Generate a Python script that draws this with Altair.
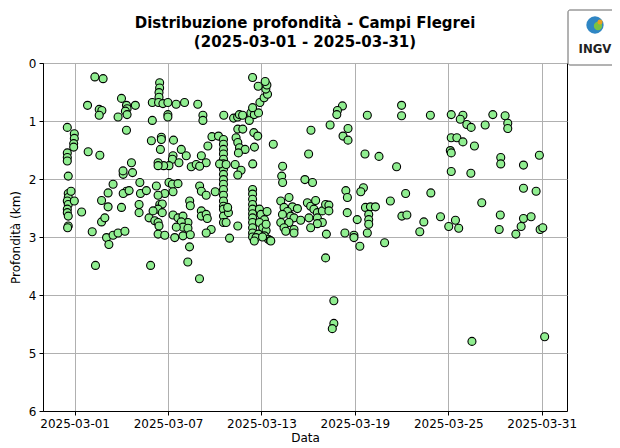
import altair as alt
import pandas as pd

# Days elapsed since 2025-03-01 00:00 (fractional) and depth in km
days = [
    # late Feb / early March
    1.30, 1.83, 0.83, 1.58, 1.75, 1.58, 3.01, 3.33, 3.37, 3.26, 3.37, 2.79, 3.90, 4.99, 4.99,
    -0.47, -0.02, -0.02, -0.06, -0.06, 3.33, -0.47, -0.47, -0.47, 0.87, 1.62, -0.41, 2.47,
    -0.41, -0.41, -0.47, -0.41, -0.47, -0.47, -0.41, -0.41, -0.45, -0.23, -0.02, 0.45,
    1.73, 2.15, 2.15, 1.73, 1.94, 1.13, 2.05, 2.47, 2.79, 2.20, 1.34, 4.88, 4.93,
    3.65, 3.72, 3.12, 3.11, 4.19, 3.33, 3.12, 3.50, 4.23, 4.61, 3.01, 4.14, 4.14, 4.78, 3.23,
    # 03-05 .. 03-08
    5.46, 5.46, 5.42, 5.42, 5.39, 5.67, 5.99, 6.52, 5.99, 5.99, 7.06, 7.91, 5.57, 5.57, 6.35,
    5.51, 6.85, 7.17, 6.32, 6.28, 6.06, 5.72, 5.36, 5.36, 6.70, 7.49, 7.81,
    5.25, 6.06, 6.28, 6.64, 6.32, 5.79, 5.36, 7.39, 7.43, 5.47, 5.63, 5.36, 5.63, 5.04,
    5.15, 5.36, 5.42, 6.32, 6.64, 6.96, 7.28, 6.85, 6.96, 6.53, 7.28, 5.36, 5.79, 6.43,
    6.96, 7.43, 7.38, 7.27, 8.02,
    # 03-09 .. 03-13
    8.24, 8.24, 9.58, 10.21, 10.47, 10.58, 10.79, 11.22, 11.32, 11.54, 11.81, 11.43, 11.90,
    12.17, 12.39, 12.28, 12.35, 12.24, 11.79, 11.43,
    8.82, 9.24, 8.56,
    9.56, 9.56, 9.56, 9.56, 9.56, 9.56, 9.56, 9.56, 9.56, 9.56, 9.56, 9.56, 9.56, 9.56, 9.56,
    9.56, 9.56,
    9.31, 9.73, 10.48, 10.80, 10.37, 10.48, 10.59, 10.95, 10.52, 10.31, 10.69, 10.48,
    11.51, 11.76, 11.55, 11.44, 12.76, 8.14, 8.45, 8.03, 8.03, 8.14, 8.45, 9.03,
    8.14, 8.14, 8.45, 8.52, 8.77, 8.45, 9.73, 9.95, 10.48, 9.88, 9.83,
    11.43, 11.43, 11.43, 11.43, 11.43, 11.43, 11.43, 11.43, 11.43, 11.43, 11.43,
    11.87, 11.97, 12.19, 11.87, 12.08, 12.30, 11.80, 12.19, 12.44, 12.57, 11.65, 12.36, 12.30,
    11.54, 12.07, 12.60,
    # 03-14 .. 03-22
    17.20, 16.88, 16.84, 18.80, 21.00, 21.00, 15.18, 16.41, 17.56, 17.24, 17.56, 15.03,
    18.65, 19.55, 20.68, 13.36, 13.30, 13.36, 14.79, 15.28, 17.42, 17.52, 18.55, 18.38, 21.26,
    13.24, 13.77, 13.45, 13.99, 14.31, 13.67, 13.35, 13.88, 14.09, 13.24, 13.77, 13.45, 14.09,
    14.52, 14.95, 15.16, 15.48, 15.37, 15.59, 15.91, 16.12, 16.33, 16.33, 15.05, 15.59, 15.91,
    15.59, 15.16, 17.51, 18.15, 18.68, 19.00, 19.32, 18.89, 18.89, 18.89, 21.02, 21.34, 20.28,
    16.17, 17.36, 17.94, 17.94, 18.80, 13.56, 14.09, 18.32, 19.91, 16.12, 16.65, 16.65, 16.55,
    # 03-23 .. 03-31
    22.85, 24.19, 24.94, 24.77, 25.19, 25.47, 26.37, 26.86, 27.65, 27.82, 27.82, 24.19, 24.55,
    24.94, 25.68, 24.13, 24.19, 27.37, 27.37, 28.83, 29.85, 24.19, 25.45, 22.88, 28.83, 29.64,
    26.15, 23.50, 22.43, 22.17, 24.46, 24.03, 24.67, 27.34, 27.27, 28.83, 29.32, 28.68, 28.34,
    29.90, 30.07, 25.52, 30.19,
]

depths = [
    0.24, 0.27, 0.73, 0.80, 0.82, 0.90, 0.61, 0.73, 0.79, 0.83, 0.89, 0.93, 0.73, 0.68, 0.99,
    1.11, 1.22, 1.30, 1.39, 1.45, 1.16, 1.55, 1.63, 1.69, 1.53, 1.59, 1.95, 2.09,
    2.25, 2.32, 2.38, 2.44, 2.52, 2.58, 2.64, 2.81, 2.84, 2.21, 2.38, 2.57,
    2.37, 2.24, 2.48, 2.74, 2.67, 2.91, 3.01, 2.97, 2.93, 3.13, 3.49, 3.49, 1.34,
    1.72, 1.89, 1.92, 1.86, 2.06, 2.21, 2.25, 2.20, 2.25, 2.20, 2.49, 2.44, 2.58, 2.67, 2.90,
    0.34, 0.43, 0.51, 0.59, 0.68, 0.70, 0.68, 0.71, 0.89, 0.93, 0.68, 0.71, 1.28, 1.32, 1.33,
    1.49, 1.49, 1.60, 1.60, 1.66, 1.77, 1.77, 1.72, 1.77, 1.72, 1.79, 1.75,
    2.12, 2.06, 2.09, 2.08, 2.22, 2.25, 2.28, 2.38, 2.46, 2.44, 2.43, 2.52, 2.58, 2.55,
    2.72, 2.75, 2.81, 2.62, 2.67, 2.64, 2.75, 2.74, 2.83, 2.83, 2.85, 2.95, 2.97, 3.01,
    2.98, 2.96, 3.17, 3.43, 3.72,
    0.90, 0.99, 0.90, 0.95, 0.93, 0.89, 0.90, 0.99, 0.86, 0.89, 0.86, 0.77, 0.68,
    0.60, 0.54, 0.45, 0.38, 0.32, 0.40, 0.25,
    1.27, 1.26, 1.43,
    1.32, 1.40, 1.49, 1.57, 1.66, 1.74, 1.83, 1.92, 2.01, 2.09, 2.18, 2.28, 2.38, 2.47, 2.52,
    2.64, 2.75,
    1.74, 1.75, 1.14, 1.14, 1.29, 1.37, 1.46, 1.49, 1.55, 1.75, 1.85, 1.93,
    1.20, 1.26, 1.45, 1.74, 1.40, 1.60, 1.72, 1.78, 2.12, 2.21, 2.28, 2.22,
    2.55, 2.64, 2.61, 2.68, 2.87, 2.93, 2.75, 3.02, 2.81, 2.58, 2.49,
    2.18, 2.26, 2.35, 2.44, 2.52, 2.60, 2.67, 2.75, 2.84, 2.93, 3.00,
    2.52, 2.61, 2.70, 2.75, 2.84, 2.89, 2.95, 2.98, 3.04, 3.06, 3.01, 2.56, 2.78,
    3.07, 3.00, 3.07,
    0.74, 0.82, 0.89, 0.90, 0.73, 0.91, 1.16, 1.07, 1.13, 1.26, 1.33, 1.57,
    1.57, 1.61, 1.79, 1.78, 1.95, 2.06, 2.01, 2.06, 2.20, 2.32, 2.15, 2.22, 2.25,
    2.38, 2.32, 2.49, 2.48, 2.51, 2.56, 2.61, 2.64, 2.67, 2.75, 2.75, 2.84, 2.87,
    2.71, 2.41, 2.47, 2.37, 2.52, 2.58, 2.55, 2.44, 2.45, 2.55, 2.67, 2.67, 2.75,
    2.77, 2.84, 2.58, 2.70, 2.49, 2.48, 2.48, 2.61, 2.70, 2.78, 2.64, 2.62, 2.38,
    2.95, 2.93, 2.97, 3.01, 2.93, 2.90, 2.93, 3.16, 3.10, 3.36, 4.10, 4.49, 4.58,
    0.90, 0.89, 0.90, 0.97, 1.06, 1.11, 1.07, 0.89, 0.91, 1.04, 1.13, 1.29, 1.29,
    1.36, 1.43, 1.51, 1.55, 1.63, 1.74, 1.76, 1.59, 1.87, 1.90, 2.24, 2.16, 2.21,
    2.41, 2.65, 2.74, 2.91, 2.71, 2.82, 2.85, 2.62, 2.87, 2.68, 2.65, 2.82, 2.95,
    2.87, 2.84, 4.80, 4.72,
]

tick_dates = ["2025-03-01", "2025-03-07", "2025-03-13", "2025-03-19", "2025-03-25", "2025-03-31"]
depth_ticks = [0, 1, 2, 3, 4, 5, 6]
title_lines = ["Distribuzione profondità - Campi Flegrei", "(2025-03-01 - 2025-03-31)"]

W, H = 524, 348

n = min(len(days), len(depths))
base = pd.Timestamp("2025-03-01")
df = pd.DataFrame({
    "Data": [base + pd.to_timedelta(d, unit="D") for d in days[:n]],
    "Profondita": depths[:n],
})
df["Data"] = df["Data"].dt.strftime("%Y-%m-%dT%H:%M:%S")

tick_vals = [alt.DateTime(year=int(t[:4]), month=int(t[5:7]), date=int(t[8:10])) for t in tick_dates]

points = alt.Chart(df).mark_circle(
    size=64, color="#90EE90", opacity=1, stroke="black", strokeWidth=1.1
).encode(
    x=alt.X(
        "Data:T",
        title="Data",
        scale=alt.Scale(
            domain=[
                alt.DateTime(year=2025, month=2, date=26, hours=23, minutes=15),
                alt.DateTime(year=2025, month=4, date=1, hours=15),
            ],
            nice=False,
        ),
        axis=alt.Axis(values=tick_vals, format="%Y-%m-%d", labelFlush=False),
    ),
    y=alt.Y(
        "Profondita:Q",
        title="Profondità (km)",
        scale=alt.Scale(domain=[0, 6], reverse=True, nice=False, zero=False),
        axis=alt.Axis(values=depth_ticks, format="d"),
    ),
)

one = pd.DataFrame({"a": [0]})

# Title drawn as text above the plot area
title1 = alt.Chart(one).mark_text(
    text=title_lines[0], font="DejaVu Sans", fontWeight="bold", fontSize=15,
    color="black", baseline="middle", align="center", clip=False
).encode(x=alt.value(W / 2), y=alt.value(-40))
title2 = alt.Chart(one).mark_text(
    text=title_lines[1], font="DejaVu Sans", fontWeight="bold", fontSize=15,
    color="black", baseline="middle", align="center", clip=False
).encode(x=alt.value(W / 2), y=alt.value(-21))

# INGV logo box (decoration)
logo_box = alt.Chart(one).mark_rect(
    fill="white", stroke="#666666", strokeWidth=1, cornerRadius=2, clip=False
).encode(x=alt.value(W + 1), x2=alt.value(W + 70), y=alt.value(-53), y2=alt.value(2))
logo_globe = alt.Chart(one).mark_circle(
    size=300, color="#2f86c4", opacity=1, clip=False
).encode(x=alt.value(W + 28), y=alt.value(-38))
logo_globe2 = alt.Chart(one).mark_circle(
    size=70, color="#7cc242", opacity=1, clip=False
).encode(x=alt.value(W + 31), y=alt.value(-37))
logo_globe3 = alt.Chart(one).mark_circle(
    size=25, color="#e8a020", opacity=1, clip=False
).encode(x=alt.value(W + 33), y=alt.value(-41))
logo_text = alt.Chart(one).mark_text(
    text="INGV", font="DejaVu Sans Condensed", fontWeight="bold", fontSize=13, color="#222222",
    clip=False
).encode(x=alt.value(W + 28), y=alt.value(-14))

chart = alt.layer(
    points, title1, title2, logo_box, logo_globe, logo_globe2, logo_globe3, logo_text
).properties(
    width=W,
    height=H,
    autosize=alt.AutoSizeParams(type="none"),
    padding={"left": 35, "top": 55, "right": 45, "bottom": 35},
).configure_view(
    stroke="black", strokeWidth=1
).configure_axis(
    labelFont="DejaVu Sans",
    titleFont="DejaVu Sans",
    labelFontSize=12,
    titleFontSize=12,
    titleFontWeight="normal",
    labelColor="black",
    titleColor="black",
    domainColor="black",
    tickColor="black",
    tickSize=4,
    labelPadding=3,
    gridColor="#b0b0b0",
    gridWidth=1,
    gridOpacity=1,
).configure_axisY(
    titlePadding=6
).configure_axisX(
    titlePadding=3
)

chart.save("out.html", embed_options={"renderer": "svg", "actions": False})
